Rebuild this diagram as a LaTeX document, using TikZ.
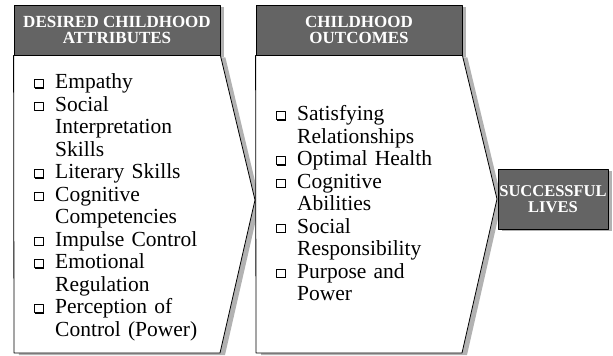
\documentclass[tikz,border=0pt]{standalone}
\usepackage{fontspec}
\setmainfont{Liberation Serif}
\usetikzlibrary{shadows}
\definecolor{hdrgray}{RGB}{100,100,100}
\newcommand{\chkbox}{\tikz[baseline=0pt]{\fill (1.2pt,-0.4pt) rectangle (10pt,7.6pt); \filldraw[fill=white,line width=0.5pt] (0,0.8pt) rectangle (8.8pt,8.8pt);}}
\newenvironment{boxlist}{\raggedright\begin{list}{\chkbox}{\setlength{\leftmargin}{23pt}\setlength{\labelwidth}{12pt}\setlength{\labelsep}{11pt}\setlength{\itemsep}{0pt}\setlength{\parsep}{0pt}\setlength{\topsep}{0pt}\setlength{\partopsep}{0pt}\setlength{\itemindent}{0pt}}}{\end{list}}

\begin{document}
\begin{tikzpicture}[line cap=round,line join=round,x=1pt,y=-1pt,
  hdr/.style={draw=black,line width=0.8pt,fill=hdrgray,text=white,align=center,
    font=\bfseries\fontsize{17}{15.5}\selectfont,minimum width=206pt,minimum height=50pt,inner sep=0pt,
    drop shadow={shadow xshift=4pt,shadow yshift=-2pt,fill=black,opacity=0.3}},
  chev/.style={draw=black,line width=0.8pt,fill=white,
    drop shadow={shadow xshift=5pt,shadow yshift=-2pt,fill=black,opacity=0.3}},
  items/.style={anchor=base west,inner sep=0pt,text width=200pt,
    font=\fontsize{21.5}{22.5}\selectfont},
  lifebox/.style={hdr,font=\bfseries\fontsize{16.5}{16}\selectfont,minimum width=110pt,minimum height=60pt}]
\useasboundingbox (0,0) rectangle (613,356);
%
\node[hdr] (attrhead) at (117,30) {DESIRED CHILDHOOD\\ATTRIBUTES};
\draw[chev] (attrhead.south west) -- (attrhead.south east) -- (255,200) -- (220,353) -- (14,353) -- cycle;
\node[items] (attrlist) at (32,66) {\begin{boxlist}
\item Empathy
\item Social\\Interpretation\\Skills
\item Literary Skills
\item Cognitive\\Competencies
\item Impulse Control
\item Emotional\\Regulation
\item Perception of\\Control (Power)
\end{boxlist}};
%
\node[hdr] (outhead) at (359,30) {CHILDHOOD\\OUTCOMES};
\draw[chev] (outhead.south west) -- (outhead.south east) -- (497,199) -- (462,353) -- (256,353) -- cycle;
\node[items] (outlist) at (274,98) {\begin{boxlist}
\item Satisfying\\Relationships
\item Optimal Health
\item Cognitive\\Abilities
\item Social\\Responsibility
\item Purpose and\\Power
\end{boxlist}};
%
\node[lifebox] (lives) at (553,199) {SUCCESSFUL\\LIVES};
\end{tikzpicture}
\end{document}
